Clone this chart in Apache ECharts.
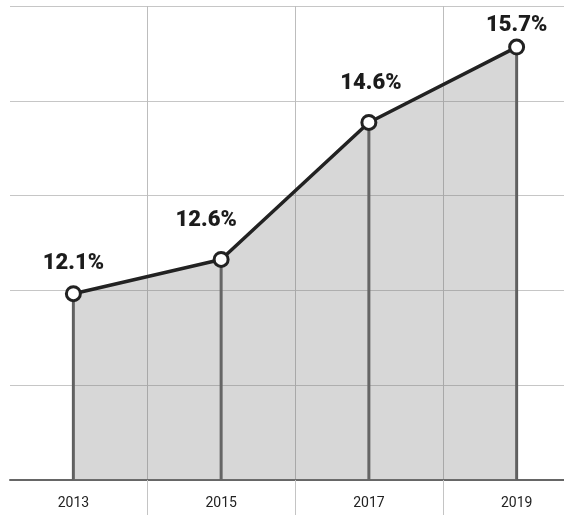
<!DOCTYPE html>
<html>
<head>
<meta charset="utf-8">
<script src="https://cdn.jsdelivr.net/npm/echarts@6/dist/echarts.min.js"></script>
<style>
  html, body { margin: 0; padding: 0; background: #fff; }
  #chart { width: 564px; height: 515px; }
</style>
</head>
<body>
<div id="chart"></div>
<script>
const years = ['2013', '2015', '2017', '2019'];
const shares = [12.1, 12.6, 14.6, 15.7];
const labelOffsets = [[0, -30], [-15, -39], [2, -39], [0, -22]];

const chart = echarts.init(document.getElementById('chart'), null, { renderer: 'canvas' });

const lineData = shares.map((v, i) => ({
  value: v,
  label: { offset: labelOffsets[i] }
}));

chart.setOption({
  animation: false,
  backgroundColor: '#ffffff',
  grid: [
    { left: -0.5, width: 591, top: 6, bottom: 35, outerBoundsMode: 'none', containLabel: false },
    { left: 10, right: 0, top: 6, bottom: 35, outerBoundsMode: 'none', containLabel: false }
  ],
  xAxis: [
    {
      type: 'category', gridIndex: 0, data: years, boundaryGap: true,
      axisLine: { show: false },
      axisTick: { show: true, length: 36, interval: 0, lineStyle: { color: '#c4c4c4', width: 1 } },
      axisLabel: { color: '#222', fontSize: 14, fontFamily: 'Roboto', margin: 16, interval: 0 },
      splitLine: { show: true, interval: 0, lineStyle: { color: '#bdbdbd', width: 1 } }
    },
    {
      type: 'value', gridIndex: 1, min: 0, max: 1, show: true,
      axisLine: { show: true, lineStyle: { color: '#666666', width: 2 } },
      axisTick: { show: false }, axisLabel: { show: false }, splitLine: { show: false }
    }
  ],
  yAxis: [
    {
      type: 'value', gridIndex: 0, min: 9.38, max: 16.3,
      axisLine: { show: false }, axisTick: { show: false }, axisLabel: { show: false },
      splitLine: { show: false }
    },
    {
      type: 'value', gridIndex: 1, min: 0, max: 5, interval: 1,
      axisLine: { show: false }, axisTick: { show: false }, axisLabel: { show: false },
      splitLine: { show: true, lineStyle: { color: '#c6c6c6', width: 1 } }
    }
  ],
  series: [
    {
      type: 'bar', xAxisIndex: 0, yAxisIndex: 0, data: shares,
      barWidth: 3, itemStyle: { color: '#5e5e5e' }, silent: true
    },
    {
      type: 'line', xAxisIndex: 0, yAxisIndex: 0, data: lineData,
      symbol: 'circle', symbolSize: 14,
      itemStyle: { color: '#ffffff', borderColor: '#222', borderWidth: 3 },
      lineStyle: { color: '#222', width: 3.5 },
      areaStyle: { color: 'rgba(120,120,120,0.42)', origin: 'start' },
      label: {
        show: true, position: 'inside',
        formatter: p => p.value + '%',
        color: '#1c1c1c', fontSize: 22, fontWeight: 900, fontFamily: 'Roboto'
      },
      z: 3
    }
  ]
});
</script>
</body>
</html>
